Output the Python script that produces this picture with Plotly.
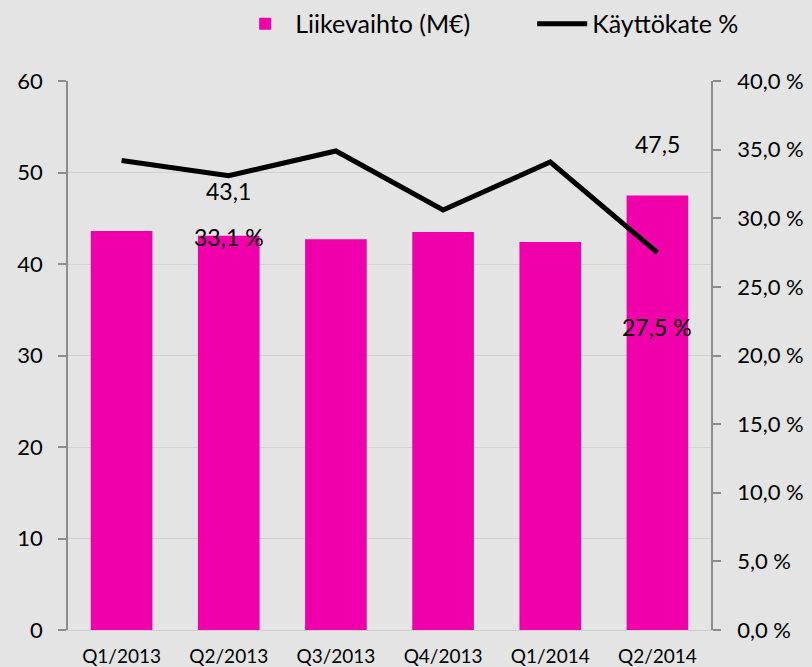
import plotly.graph_objects as go

categories = ["Q1/2013", "Q2/2013", "Q3/2013", "Q4/2013", "Q1/2014", "Q2/2014"]
revenue = [43.6, 43.1, 42.7, 43.5, 42.4, 47.5]          # Liikevaihto (M€)
ebitda_pct = [34.2, 33.1, 34.9, 30.6, 34.1, 27.5]        # Käyttökate %
labelled_idx = [1, 5]

left_ticks = [0, 10, 20, 30, 40, 50, 60]
right_ticks = [0, 5, 10, 15, 20, 25, 30, 35, 40]
right_ticktext = [f"{v:.1f}".replace(".", ",") + " %" for v in right_ticks]

FONT = "Lato"
fig = go.Figure()
fig.add_trace(go.Bar(
    x=categories, y=revenue, name="Liikevaihto (M€)",
    marker=dict(color="#F000AA", line=dict(width=0)),
    yaxis="y",
))
fig.add_trace(go.Scatter(
    x=categories, y=ebitda_pct, name="Käyttökate %",
    mode="lines", line=dict(color="black", width=5),
    yaxis="y2",
))

anns = []
bar_shift = {1: 45, 5: 51}
line_shift = {1: -61, 5: -74}
for i in labelled_idx:
    anns.append(dict(x=categories[i], y=revenue[i], xref="x", yref="y",
                     text=f"{revenue[i]:.1f}".replace(".", ","), showarrow=False,
                     yshift=bar_shift[i], font=dict(size=23, color="black", family=FONT)))
    anns.append(dict(x=categories[i], y=ebitda_pct[i], xref="x", yref="y2",
                     text=f"{ebitda_pct[i]:.1f}".replace(".", ",") + " %", showarrow=False,
                     yshift=line_shift[i], font=dict(size=23, color="black", family=FONT)))

fig.update_layout(
    width=812, height=667,
    margin=dict(l=68, r=101, t=81, b=37, autoexpand=False),
    paper_bgcolor="#e4e4e4", plot_bgcolor="rgba(0,0,0,0)",
    font=dict(family=FONT, color="black"),
    bargap=0.425,
    showlegend=True,
    legend=dict(orientation="h", x=0.26, xanchor="left", y=1.104, yref="paper",
                yanchor="middle", font=dict(size=25, family=FONT), bgcolor="rgba(0,0,0,0)",
                itemwidth=50, entrywidth=232, traceorder="normal"),
    xaxis=dict(showgrid=False, showline=True, linecolor="#cfcfcf", linewidth=1,
               tickfont=dict(size=19, family=FONT), ticks="", ticklabelstandoff=9),
    yaxis=dict(range=[0, 60], tickvals=left_ticks, showgrid=True, gridcolor="#d2d2d2",
               gridwidth=1, showline=True, linecolor="#8c8c8c", linewidth=1.5,
               ticks="outside", ticklen=8, tickcolor="#8c8c8c", tickwidth=1.5,
               tickfont=dict(size=22, family=FONT), ticklabelstandoff=11, zeroline=False),
    yaxis2=dict(range=[0, 40], overlaying="y", side="right", tickvals=right_ticks,
                ticktext=right_ticktext, showgrid=False, showline=True,
                linecolor="#8c8c8c", linewidth=1.5, ticks="outside", ticklen=8,
                tickcolor="#8c8c8c", tickwidth=1.5, tickfont=dict(size=22, family=FONT),
                ticklabelstandoff=12, zeroline=False),
    annotations=anns,
)
fig.write_html("out.html", config={"displayModeBar": False},
               post_script="document.body.style.margin='0';document.body.style.background='#e4e4e4';")
